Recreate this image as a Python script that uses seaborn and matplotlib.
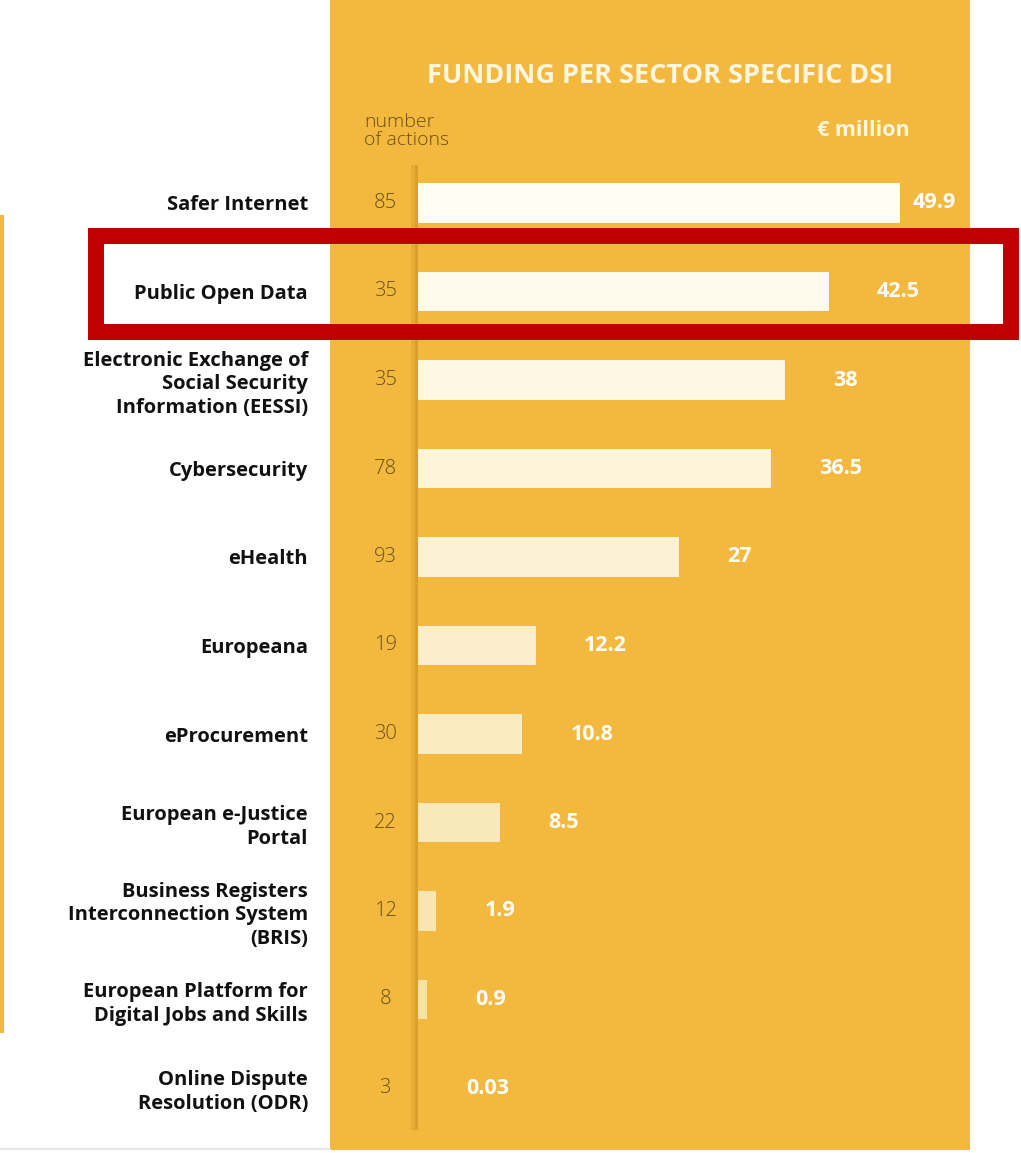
import numpy as np
import pandas as pd
import matplotlib
matplotlib.use("Agg")
import matplotlib.pyplot as plt
import seaborn as sns
from matplotlib import patches
from matplotlib.colors import to_rgb

sectors = [
    "Safer Internet",
    "Public Open Data",
    "Electronic Exchange of\nSocial Security\nInformation (EESSI)",
    "Cybersecurity",
    "eHealth",
    "Europeana",
    "eProcurement",
    "European e-Justice\nPortal",
    "Business Registers\nInterconnection System\n(BRIS)",
    "European Platform for\nDigital Jobs and Skills",
    "Online Dispute\nResolution (ODR)",
]
funding = [49.9, 42.5, 38, 36.5, 27, 12.2, 10.8, 8.5, 1.9, 0.9, 0.03]
funding_labels = ["49.9", "42.5", "38", "36.5", "27", "12.2", "10.8", "8.5", "1.9", "0.9", "0.03"]
actions = [85, 35, 35, 78, 93, 19, 30, 22, 12, 8, 3]

W, H = 1021, 1153
PANEL = "#F3B93F"
PPU = 9.66          # pixels per EUR million
ROW0, ROWSTEP = 203, 88.5


def fx(px):
    return px / W


def fy(py):
    return 1 - py / H


sns.set_theme(style="white")
plt.rcParams["font.family"] = ["Open Sans", "DejaVu Sans"]

fig = plt.figure(figsize=(W / 100, H / 100), dpi=100)
fig.patch.set_facecolor("white")

# panel axes spanning the orange block
ax = fig.add_axes([fx(330), fy(1150), (970 - 330) / W, 1150 / H])
ax.set_facecolor(PANEL)

df = pd.DataFrame({"sector": sectors, "funding": funding})
c_top, c_bot = np.array(to_rgb("#FFFDF3")), np.array(to_rgb("#F7DFA0"))
palette = [tuple(c_top + (c_bot - c_top) * t) for t in np.linspace(0, 1, len(sectors))]

sns.barplot(
    data=df, x="funding", y="sector", hue="sector", palette=palette,
    saturation=1, width=0.45, legend=False, linewidth=0, ax=ax,
)

ax.set_xlim(-(418 - 330) / PPU, (970 - 418) / PPU)
ax.set_ylim((1150 - ROW0) / ROWSTEP, -ROW0 / ROWSTEP)
ax.set_xticks([])
ax.set_xlabel("")
ax.set_ylabel("")
for s in ax.spines.values():
    s.set_visible(False)
ax.tick_params(axis="y", length=0, pad=15.8, labelsize=14.5, labelcolor="#111111")
for lbl in ax.get_yticklabels():
    lbl.set_fontweight("bold")
    lbl.set_linespacing(1.25)

# shadow divider between counts and bars
ax.add_patch(patches.Rectangle(
    (-0.7, (165 - ROW0) / ROWSTEP), 0.7, (1130 - 165) / ROWSTEP,
    color="#E6AC34", lw=0, zorder=0.4))
ax.add_patch(patches.Rectangle(
    (-0.35, (165 - ROW0) / ROWSTEP), 0.35, (1130 - 165) / ROWSTEP,
    color="#DBA02B", lw=0, zorder=0.5))

for i, (n, v, lab) in enumerate(zip(actions, funding, funding_labels)):
    ax.text(-3.4, i, str(n), ha="center", va="center", color="#6A4F14", fontsize=14.5,
            fontweight="light")
    ax.text(min(v + 5, 51.2), i, lab, ha="left", va="center", color="white",
            fontweight="bold", fontsize=15.5)

fig.text(fx(660), fy(76), "FUNDING PER SECTOR SPECIFIC DSI", ha="center", va="center",
         color="#FFF6DF", fontweight="bold", fontsize=19.5)
fig.text(fx(364), fy(131), "number\nof actions", ha="left", va="center",
         color="#6A4F14", fontsize=14, linespacing=0.95, fontweight="light")
fig.text(fx(863), fy(130), "€ million", ha="center", va="center",
         color="#FFF6DF", fontweight="bold", fontsize=15.5)

# thin yellow strip on the left edge and faint bottom rule
fig.add_artist(patches.Rectangle((0, fy(1033)), fx(4), (1033 - 215) / H,
                                 transform=fig.transFigure, color=PANEL, lw=0))
fig.add_artist(plt.Line2D([0, fx(330)], [fy(1149), fy(1149)],
                          transform=fig.transFigure, color="#E6E6E6", lw=1.5))

# red highlight box around "Public Open Data"
fig.add_artist(patches.Rectangle((fx(96), fy(332)), fx(1011 - 96), (332 - 236) / H,
                                 transform=fig.transFigure, fill=False,
                                 edgecolor="#C00000", lw=11.5))

fig.savefig("out.png", dpi=100)
